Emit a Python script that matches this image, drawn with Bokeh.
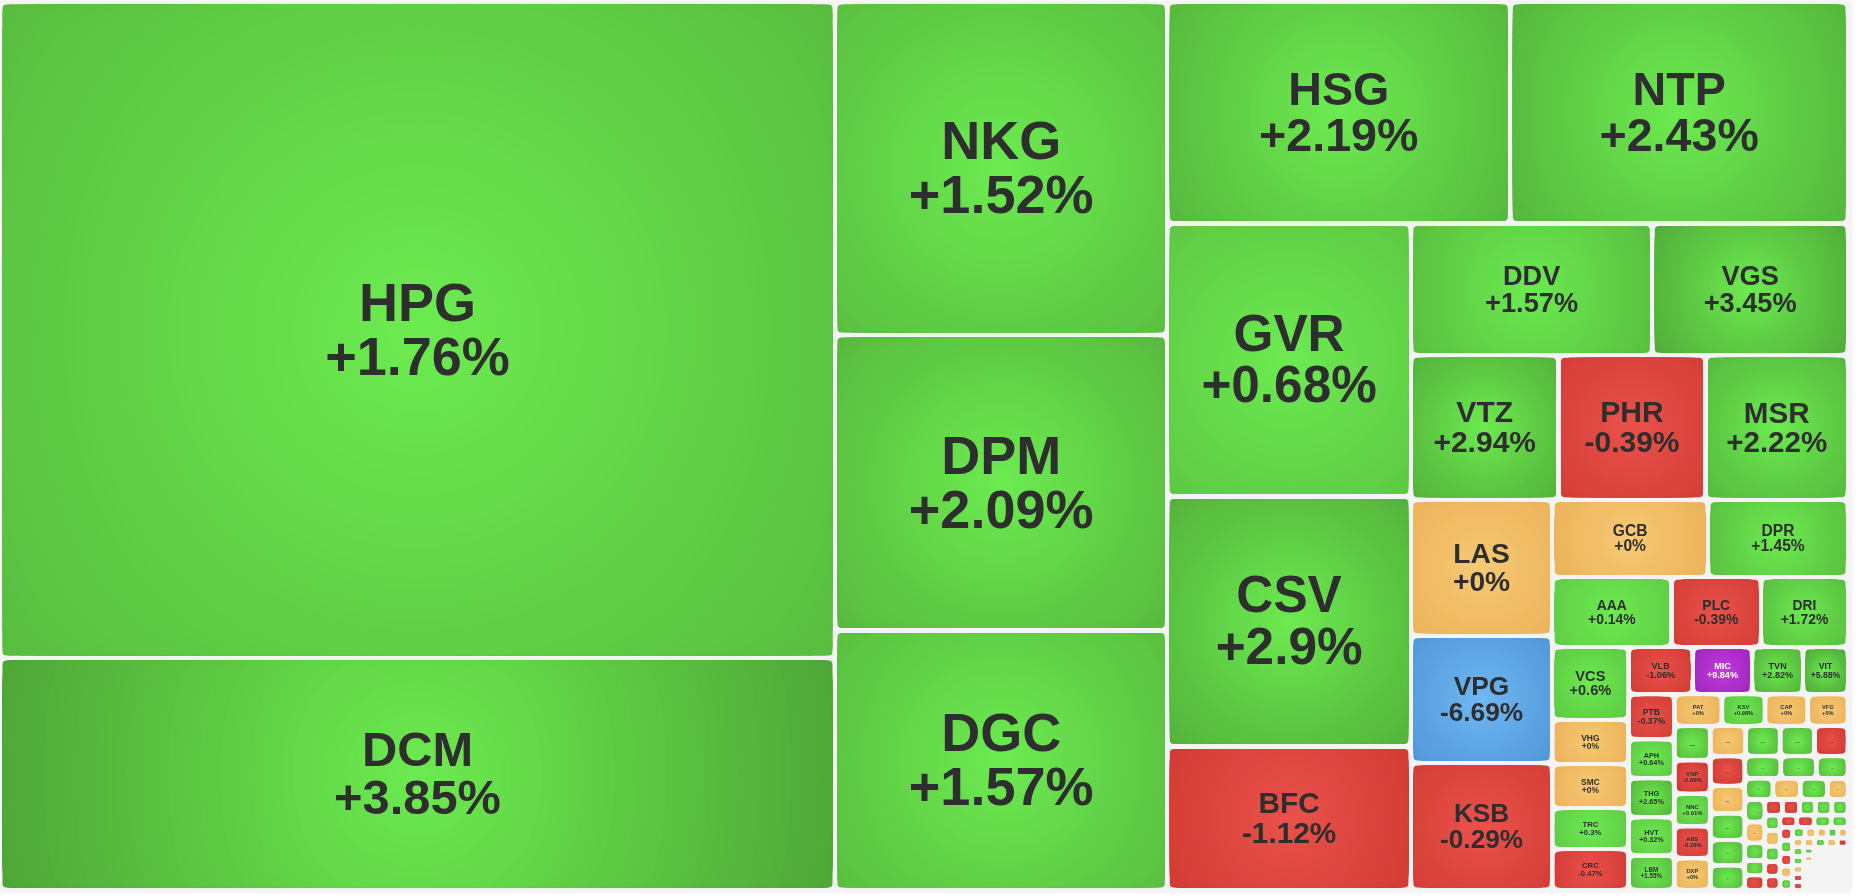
import math
from bokeh.plotting import figure
from bokeh.models import Range1d, ColumnDataSource
from bokeh.core.properties import value
from bokeh.embed import file_html
from bokeh.resources import INLINE

# ---------------- data ----------------
big_tickers = ["HPG", "DCM", "NKG", "DPM", "DGC", "HSG", "NTP", "GVR", "CSV", "BFC",
               "DDV", "VGS", "VTZ", "PHR", "MSR", "LAS", "VPG", "KSB", "GCB", "DPR",
               "AAA", "PLC", "DRI", "VCS", "VHG", "SMC", "TRC", "CRC", "VLB", "MIC",
               "TVN", "VIT", "PTB", "APH", "THG", "HVT", "LBM", "PAT", "KSV", "CAP",
               "VFG", "", "VNP", "NNC", "ABS", "DXP"]
big_changes = [1.76, 3.85, 1.52, 2.09, 1.57, 2.19, 2.43, 0.68, 2.9, -1.12,
               1.57, 3.45, 2.94, -0.39, 2.22, 0, -6.69, -0.29, 0, 1.45,
               0.14, -0.39, 1.72, 0.6, 0, 0, 0.3, -0.47, -1.06, 9.84,
               2.82, 5.88, -0.37, 0.64, 2.65, 0.32, 1.55, 0, 0.98, 0,
               0, None, -2.89, 0.91, -0.28, 0]
big_trends = ["up", "up", "up", "up", "up", "up", "up", "up", "up", "down",
              "up", "up", "up", "down", "up", "flat", "floor", "down", "flat", "up",
              "up", "down", "up", "up", "flat", "flat", "up", "down", "down", "ceil",
              "up", "up", "down", "up", "up", "up", "up", "flat", "up", "flat",
              "flat", "up", "down", "up", "down", "flat"]
big_values = [547760, 193720, 110656, 98195, 86232, 75997, 74823, 66503, 60900, 34957,
              31792, 25774, 21328, 21242, 20591, 19231, 17973, 17945, 12075, 10850,
              8327, 6247, 6073, 5547, 3403, 3357, 3121, 3113, 3037, 2814,
              2403, 2129, 2061, 1786, 1782, 1754, 1580, 1492, 1356, 1341,
              1265, 1246, 1202, 1174, 1152, 1141]
small_values = [1074, 1058, 1046, 1022,
                1018, 949, 915, 874, 846,
                796, 787, 700,
                594, 578, 571, 435,
                448, 420, 350, 296, 294,
                279, 270, 251, 259, 256,
                230, 239, 237, 216, 211,
                201, 207, 203, 201,
                165, 166, 161, 148, 150,
                136, 122, 119, 114, 111,
                98, 105, 98, 92, 92, 88,
                102, 104, 102, 99,
                80, 78]
small_trends = ["flat", "up", "up", "down",
                "down", "flat", "up", "up", "up",
                "up", "up", "up",
                "up", "flat", "up", "flat",
                "up", "flat", "up", "up", "down",
                "down", "down", "up", "up", "up",
                "up", "flat", "up", "down", "down",
                "down", "down", "up", "up",
                "down", "up", "down", "flat", "up",
                "up", "flat", "flat", "up", "flat",
                "flat", "up", "up", "flat", "down", "down",
                "flat", "up", "flat", "down",
                "up", "flat"]
tail_values = [30, 30, 29, 29, 29, 29, 29, 28, 28, 28,
               28, 28, 28, 28, 28, 27, 27, 27, 27, 27, 27, 27, 27, 27, 27,
               27, 27, 27, 27, 27, 26, 26, 26, 26, 26, 26, 26, 26, 26, 26,
               26, 26, 26, 26, 26, 26, 26, 26, 26, 26, 26, 26, 26, 26, 26,
               26, 26, 26, 26, 26, 26, 26, 26, 26, 26]
row_sizes = [2, 3, 2, 3, 2, 3, 3, 2, 3, 5, 4, 5, 4, 5, 4, 5, 3, 4, 5, 5, 5, 4, 5, 5, 6, 4, 12]

n_unlabeled = len(small_values) + len(tail_values)
tickers = big_tickers + [""] * n_unlabeled
changes = big_changes + [None] * n_unlabeled
trends = big_trends + small_trends + ["flat"] * len(tail_values)
values = big_values + small_values + tail_values

# ---------------- geometry ----------------
W, H = 1860, 896
BOX_R, BOX_B = 1852, 893
RX0, RY0, RX1, RY1 = -0.5, 1.5, 1847.5, 889.5
PAD = 2.5
CORNER = 4


def layout_rows(vals, sizes, x0, y0, x1, y1):
    sizes = list(sizes) + [len(vals) - sum(sizes)]
    rem = float(sum(vals))
    out = []
    i = 0
    for n in sizes:
        if n <= 0:
            continue
        row = vals[i:i + n]
        s = float(sum(row))
        dx, dy = x1 - x0, y1 - y0
        if dx >= dy:
            w = dx * s / rem
            yy = y0
            for v in row:
                h = dy * v / s
                out.append((x0, yy, x0 + w, yy + h))
                yy += h
            x0 += w
        else:
            h = dy * s / rem
            xx = x0
            for v in row:
                w = dx * v / s
                out.append((xx, y0, xx + w, y0 + h))
                xx += w
            y0 += h
        rem -= s
        i += n
    return out


cells = layout_rows(values, row_sizes, RX0, RY0, RX1, RY1)

# centre colour, edge colour for weak moves, edge colour for strong moves
GRAD = {
    "up": ((108, 235, 80), (97, 206, 71), (78, 164, 54)),
    "down": ((234, 82, 75), (212, 62, 55), (200, 52, 46)),
    "flat": ((247, 201, 116), (235, 178, 89), (235, 178, 89)),
    "ceil": ((193, 63, 220), (159, 35, 189), (159, 35, 189)),
    "floor": ((112, 184, 243), (81, 150, 217), (81, 150, 217)),
}


def make_mixer(trend, chg):
    c0, e_lo, e_hi = GRAD[trend]
    k = 0.5 if chg is None else min(abs(chg) / 4.0, 1.0)
    c1 = tuple(e_lo[j] + (e_hi[j] - e_lo[j]) * k for j in range(3))

    def mix(t):
        t = max(0.0, min(1.0, t))
        return "#%02x%02x%02x" % tuple(int(round(c0[j] + (c1[j] - c0[j]) * t)) for j in range(3))
    return mix


def fy(y):
    return H - y


p = figure(width=W, height=H, x_range=Range1d(0, W), y_range=Range1d(0, H),
           output_backend="svg", toolbar_location=None, min_border=0,
           x_axis_location=None, y_axis_location=None,
           background_fill_color="white", border_fill_color="white")
p.grid.visible = False
p.outline_line_color = None
p.styles = {"position": "fixed", "left": "0px", "top": "0px"}

# page panel
p.quad(left=[-20], right=[BOX_R], top=[H + 20], bottom=[fy(BOX_B)],
       fill_color="#F4F4F4", line_color=None, border_radius=8)

NC = 10     # corner levels (radius between max half side and corner)
NLEV = 40   # inner levels
NTOT = NC + NLEV
base = {k: dict(l=[], r=[], t=[], b=[], c=[]) for k in ("big", "mid", "tiny")}
lq = [dict(l=[], r=[], t=[], b=[], c=[]) for _ in range(NTOT)]
le = [dict(x=[], y=[], w=[], h=[], c=[]) for _ in range(NTOT)]
lab = dict(x=[], y=[], text=[], size=[], color=[])
dots = dict(x=[], y=[], text=[], size=[])


def add_quad(k, l, r, t, b, col):
    q = lq[k]
    q["l"].append(l); q["r"].append(r); q["t"].append(fy(t)); q["b"].append(fy(b)); q["c"].append(col)


def add_ell(k, x, y, w, h, col):
    e = le[k]
    e["x"].append(x); e["y"].append(fy(y)); e["w"].append(w); e["h"].append(h); e["c"].append(col)


for (x0, y0, x1, y1), name, chg, trend in zip(cells, tickers, changes, trends):
    tx0, ty0, tx1, ty1 = x0 + PAD, y0 + PAD, x1 - PAD, y1 - PAD
    w, h = tx1 - tx0, ty1 - ty0
    if w < 1.5 or h < 1.5:
        continue
    mix = make_mixer(trend, chg)
    cx, cy = (tx0 + tx1) / 2, (ty0 + ty1) / 2
    a, b = w / 2, h / 2
    M, m, R = max(a, b), min(a, b), math.hypot(a, b)
    key = "big" if min(w, h) >= 14 else ("mid" if min(w, h) >= 6 else "tiny")

    # radii, outermost first
    rhos = []
    if M >= 3:
        rmax = math.hypot(max(a - CORNER, 0), max(b - CORNER, 0))
        if rmax > M + 1:
            nc = NC if M > 40 else max(2, int(NC * M / 40))
            rhos += [("c", j, rmax - (rmax - M) * j / nc) for j in range(nc)]
        nl = NLEV if M > 40 else max(6, int(NLEV * M / 40))
        rhos += [("s", NC + k, M * (nl - k) / nl) for k in range(nl)]
    first = rhos[0][2] if rhos else 0.5 * R
    d = base[key]
    d["l"].append(tx0); d["r"].append(tx1); d["t"].append(ty0 and fy(ty0)); d["b"].append(fy(ty1))
    d["c"].append(mix((R + first) / (2 * R)))
    for idx, (kind, lev, rho) in enumerate(rhos):
        nxt = rhos[idx + 1][2] if idx + 1 < len(rhos) else 0.0
        col = mix((rho + nxt) / (2 * R))
        if kind == "c":
            sx = math.sqrt(max(rho * rho - b * b, 0.0))
            sy = math.sqrt(max(rho * rho - a * a, 0.0))
            add_quad(lev, cx - a, cx + a, cy - sy, cy + sy, col)
            add_quad(lev, cx - sx, cx + sx, cy - b, cy + b, col)
            for ux in (-1, 1):
                for uy in (-1, 1):
                    add_ell(lev, cx + ux * sx, cy + uy * sy, 2 * (a - sx), 2 * (b - sy), col)
        else:
            s = math.sqrt(max(rho * rho - m * m, 0.0))
            hh = min(rho, m)
            ext = rho - s
            if a >= b:
                if s > 0.05:
                    add_quad(lev, cx - s, cx + s, cy - hh, cy + hh, col)
                    centers = [(cx - s, cy), (cx + s, cy)]
                else:
                    centers = [(cx, cy)]
                for ex, ey in centers:
                    add_ell(lev, ex, ey, 2 * ext, 2 * hh, col)
            else:
                if s > 0.05:
                    add_quad(lev, cx - hh, cx + hh, cy - s, cy + s, col)
                    centers = [(cx, cy - s), (cx, cy + s)]
                else:
                    centers = [(cx, cy)]
                for ex, ey in centers:
                    add_ell(lev, ex, ey, 2 * hh, 2 * ext, col)

    f = min(0.215 * min(w, h), 54.0)
    if name:
        tcol = "#ffffff" if trend == "ceil" else "#2e2e2e"
        pct = "%+g%%" % chg
        for txt, yy in ((name, cy - 0.52 * f), (pct, cy + 0.48 * f)):
            lab["x"].append(cx); lab["y"].append(fy(yy)); lab["text"].append(txt)
            lab["size"].append("%.1fpx" % f); lab["color"].append(tcol)
    elif f >= 1.6:
        dots["x"].append(cx); dots["y"].append(fy(cy)); dots["text"].append("...")
        dots["size"].append("%.1fpx" % f)

for key, rad in (("big", 4), ("mid", 2), ("tiny", 1)):
    src = ColumnDataSource(base[key])
    p.quad(left="l", right="r", top="t", bottom="b", source=src,
           fill_color="c", line_color=None, border_radius=rad)

for k in range(NTOT):
    if lq[k]["l"]:
        p.quad(left="l", right="r", top="t", bottom="b", source=ColumnDataSource(lq[k]),
               fill_color="c", line_color=None)
    if le[k]["x"]:
        p.ellipse(x="x", y="y", width="w", height="h", source=ColumnDataSource(le[k]),
                  fill_color="c", line_color=None)

p.text(x="x", y="y", text="text", source=ColumnDataSource(lab),
       text_font=value("Liberation Sans"), text_font_style="bold",
       text_font_size="size", text_color="color",
       text_align="center", text_baseline="alphabetic")
p.text(x="x", y="y", text="text", source=ColumnDataSource(dots),
       text_font=value("Liberation Sans"), text_font_style="bold",
       text_font_size="size", text_color="#2e2e2e",
       text_align="center", text_baseline="middle")

open("out.html", "w").write(file_html(p, INLINE))
